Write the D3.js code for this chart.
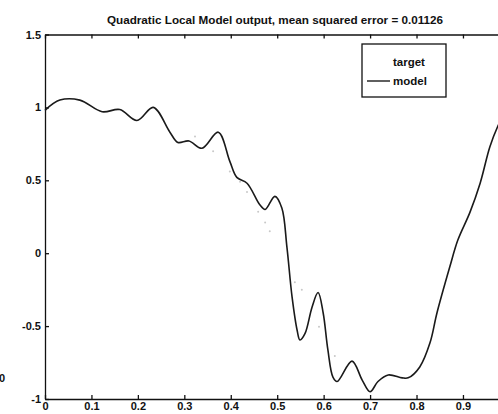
<!DOCTYPE html>
<html>
<head>
<meta charset="utf-8">
<script src="https://cdn.jsdelivr.net/npm/d3@7"></script>
<style>
  html, body { margin: 0; padding: 0; background: #fff; }
  svg { display: block; }
  text { font-family: "Liberation Sans", Arial, Helvetica, sans-serif; fill: #111; }
</style>
</head>
<body>
<svg id="chart" width="498" height="414"></svg>
<script>
// Model output sampled along x
const modelX = [0, 0.032, 0.075, 0.123, 0.161, 0.198, 0.233, 0.269, 0.286, 0.31, 0.338, 0.373,
  0.398, 0.413, 0.435, 0.463, 0.474, 0.495, 0.51, 0.521, 0.532, 0.543, 0.549, 0.56, 0.575,
  0.588, 0.599, 0.609, 0.62, 0.629, 0.661, 0.683, 0.70, 0.717, 0.739, 0.769, 0.782, 0.807,
  0.829, 0.844, 0.872, 0.889, 0.915, 0.937, 0.958, 0.975, 1.0];
const modelY = [0.98, 1.05, 1.05, 0.97, 0.985, 0.91, 1.0, 0.83, 0.76, 0.77, 0.72, 0.83,
  0.63, 0.52, 0.48, 0.33, 0.30, 0.39, 0.31, 0.04, -0.30, -0.53, -0.595, -0.55, -0.37,
  -0.27, -0.41, -0.66, -0.85, -0.88, -0.74, -0.87, -0.95, -0.88, -0.835, -0.855, -0.855, -0.78,
  -0.615, -0.41, -0.09, 0.09, 0.28, 0.48, 0.73, 0.87, 1.02];

// Target samples (faint dots)
const targetX = [0.323, 0.362, 0.398, 0.42, 0.435, 0.459, 0.474, 0.484, 0.538, 0.553, 0.59, 0.624];
const targetY = [0.80, 0.70, 0.56, 0.49, 0.42, 0.285, 0.21, 0.15, -0.20, -0.25, -0.505, -0.705];

const xTicks = [0, 0.1, 0.2, 0.3, 0.4, 0.5, 0.6, 0.7, 0.8, 0.9];
const xTickLabels = ["0", "0.1", "0.2", "0.3", "0.4", "0.5", "0.6", "0.7", "0.8", "0.9"];
const yTicks = [-1, -0.5, 0, 0.5, 1, 1.5];
const yTickLabels = ["-1", "-0.5", "0", "0.5", "1", "1.5"];

const titleText = "Quadratic Local Model output, mean squared error = 0.01126";
const legendLabels = ["target", "model"];

const svg = d3.select("#chart");
const plotLeft = 45, plotRight = 509.4, plotTop = 34.5, plotBottom = 399;

const x = d3.scaleLinear().domain([0, 1]).range([plotLeft, plotRight]);
const y = d3.scaleLinear().domain([-1, 1.5]).range([plotBottom, plotTop]);

// Axes with inward ticks
const fmtX = d => xTickLabels[xTicks.indexOf(d)];
const fmtY = d => yTickLabels[yTicks.indexOf(d)];

function styleAxis(g) {
  g.attr("font-family", null).attr("font-size", null);
  g.select(".domain").attr("stroke", "#111").attr("stroke-width", 1.3);
  g.selectAll(".tick line").attr("stroke", "#111").attr("stroke-width", 1.3);
  g.selectAll(".tick text").style("font-size", "11px").style("font-weight", "bold").attr("fill", "#111");
}

svg.append("g").attr("transform", `translate(0,${plotBottom})`)
  .call(d3.axisBottom(x).tickValues(xTicks).tickFormat(fmtX).tickSizeInner(-4).tickSizeOuter(0).tickPadding(3))
  .call(styleAxis);

svg.append("g").attr("transform", `translate(0,${plotTop})`)
  .call(d3.axisTop(x).tickValues(xTicks).tickFormat("").tickSizeInner(-4).tickSizeOuter(0))
  .call(styleAxis);

svg.append("g").attr("transform", `translate(${plotLeft},0)`)
  .call(d3.axisLeft(y).tickValues(yTicks).tickFormat(fmtY).tickSizeInner(-4).tickSizeOuter(0).tickPadding(4))
  .call(styleAxis);

// Right frame edge
svg.append("line").attr("x1", plotRight).attr("x2", plotRight).attr("y1", plotTop).attr("y2", plotBottom)
  .attr("stroke", "#111").attr("stroke-width", 1.3);

// Target dots
svg.append("g").selectAll("circle")
  .data(targetX.map((d, i) => [d, targetY[i]]))
  .join("circle")
  .attr("cx", d => x(d[0]))
  .attr("cy", d => y(d[1]))
  .attr("r", 1)
  .attr("fill", "#c8c8c8");

// Model line
const line = d3.line()
  .x(d => x(d[0]))
  .y(d => y(d[1]))
  .curve(d3.curveCatmullRom.alpha(0.5));

svg.append("path")
  .datum(modelX.map((d, i) => [d, modelY[i]]))
  .attr("d", line)
  .attr("fill", "none")
  .attr("stroke", "#1a1a1a")
  .attr("stroke-width", 1.6);

// Title
svg.append("text")
  .attr("x", 275).attr("y", 24)
  .attr("text-anchor", "middle")
  .style("font-size", "11.7px")
  .style("font-weight", "bold")
  .text(titleText);

// Legend
const lg = svg.append("g");
lg.append("rect")
  .attr("x", 362).attr("y", 44).attr("width", 84).attr("height", 53)
  .attr("fill", "#fff").attr("stroke", "#111").attr("stroke-width", 1.3);
lg.append("text").attr("x", 393).attr("y", 66)
  .style("font-size", "11.5px").style("font-weight", "bold").text(legendLabels[0]);
lg.append("line").attr("x1", 367).attr("x2", 390).attr("y1", 81).attr("y2", 81)
  .attr("stroke", "#1a1a1a").attr("stroke-width", 1.4);
lg.append("text").attr("x", 393).attr("y", 85)
  .style("font-size", "11.5px").style("font-weight", "bold").text(legendLabels[1]);

// Stray label at the left margin
svg.append("text").attr("x", -1).attr("y", 382)
  .style("font-size", "11px").style("font-weight", "bold").text("0");
</script>
</body>
</html>
